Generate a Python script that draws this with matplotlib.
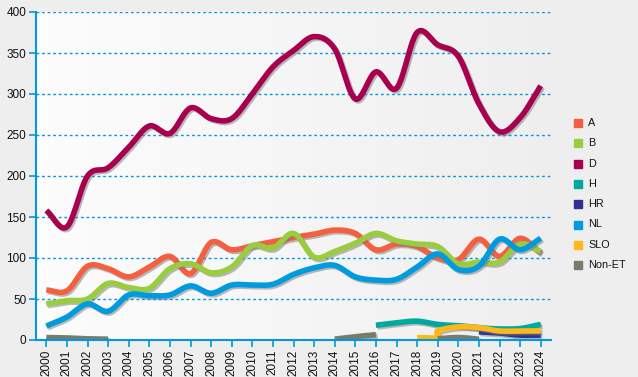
import numpy as np
import matplotlib
matplotlib.use("Agg")
import matplotlib.pyplot as plt
import matplotlib.patheffects as pe

plt.rcParams['font.family'] = ['Liberation Sans', 'DejaVu Sans']

years = list(range(2000, 2025))

a_vals = [61, 60, 90, 87, 77, 89, 102, 81, 119, 110, 115, 120, 125, 129,
          134, 130, 110, 117, 114, 100, 98, 123, 102, 124, 106]
b_vals = [44, 48, 50, 69, 64, 63, 87, 93, 82, 89, 115, 112, 130, 101,
          108, 118, 130, 121, 117, 114, 93, 95, 95, 117, 108]
d_vals = [158, 138, 200, 210, 235, 261, 252, 283, 270, 270, 300, 333, 353, 370,
          355, 294, 327, 307, 375, 360, 346, 288, 254, 271, 310]
nl_vals = [17, 28, 44, 35, 55, 54, 55, 66, 57, 67, 67, 68, 80, 88,
           91, 77, 73, 74, 89, 105, 86, 90, 123, 110, 124]

h_years = [2016, 2017, 2018, 2019, 2020, 2021, 2022, 2023, 2024]
h_vals = [18, 21, 23, 19, 17.5, 15, 13.5, 14, 19]

hr_years = [2021, 2022, 2023, 2024]
hr_vals = [10, 8.5, 6, 6]

slo_years = [2018, 2019, 2019, 2020, 2021, 2022, 2023, 2024]
slo_vals = [3, 3, 11, 16, 15, 11, 11, 11]

nonet_segments = [
    ([2000, 2001, 2002, 2003], [3, 2.5, 1.5, 1]),
    ([2014, 2015, 2016], [1, 4, 6.5]),
    ([2019, 2020, 2021], [1.5, 3, 1]),
]

colors = {
    'A': '#F4603F',
    'B': '#99CC3F',
    'D': '#A6004F',
    'H': '#00A99D',
    'HR': '#2E3192',
    'NL': '#009BDF',
    'SLO': '#FFB81C',
    'Non-ET': '#7A7B6B',
}


def smooth(xs, ys, n=24):
    # parametric catmull-rom through the points
    p = np.column_stack([xs, ys]).astype(float)
    if len(p) < 3:
        return p[:, 0], p[:, 1]
    ext = np.vstack([2 * p[0] - p[1], p, 2 * p[-1] - p[-2]])
    out = []
    t = np.linspace(0, 1, n)[:, None]
    for i in range(1, len(ext) - 2):
        p0, p1, p2, p3 = ext[i - 1], ext[i], ext[i + 1], ext[i + 2]
        m1 = (p2 - p0) / 2
        m2 = (p3 - p1) / 2
        h00 = 2 * t**3 - 3 * t**2 + 1
        h10 = t**3 - 2 * t**2 + t
        h01 = -2 * t**3 + 3 * t**2
        h11 = t**3 - t**2
        out.append(h00 * p1 + h10 * m1 + h01 * p2 + h11 * m2)
    out = np.vstack(out)
    return out[:, 0], out[:, 1]


fig = plt.figure(figsize=(6.38, 3.77), dpi=100, facecolor='#EEEEEE')
ax = fig.add_axes([36 / 638, 1 - 340 / 377, (551 - 36) / 638, 328 / 377])
ax.set_facecolor('#EEEEEE')

# background gradient of the plot area
grad = np.linspace(0.99, 0.935, 256)[None, :]
ax.imshow(np.dstack([grad, grad, grad]), extent=[1999.5, 2024.5, 0, 400],
          aspect='auto', zorder=0)

shadow = [pe.SimpleLineShadow(offset=(1.2, -1.2), shadow_color='#777777', alpha=0.5),
          pe.Normal()]

series = [
    ('A', years, a_vals),
    ('B', years, b_vals),
    ('D', years, d_vals),
    ('H', h_years, h_vals),
    ('HR', hr_years, hr_vals),
    ('NL', years, nl_vals),
    ('SLO', slo_years, slo_vals),
]

for z, (name, xs, ys) in enumerate(series):
    sx, sy = smooth(xs, ys)
    ax.plot(sx, sy, color=colors[name], lw=4, solid_capstyle='butt',
            path_effects=shadow, zorder=3 + z)

for xs, ys in nonet_segments:
    sx, sy = smooth(xs, ys)
    ax.plot(sx, sy, color=colors['Non-ET'], lw=4, solid_capstyle='butt',
            path_effects=shadow, zorder=10)

ax.set_xlim(1999.5, 2024.5)
ax.set_ylim(0, 400)
ax.set_xticks(years)
ax.set_xticklabels([str(y) for y in years], rotation=90)
ax.set_yticks(range(0, 401, 50))
for v in range(50, 401, 50):
    ax.axhline(v, color='#0099DD', lw=1, ls=(0, (2, 2)), zorder=1)

for s in ['top', 'right']:
    ax.spines[s].set_visible(False)
for s in ['left', 'bottom']:
    ax.spines[s].set_color('#0099DD')
    ax.spines[s].set_linewidth(1.5)
    ax.spines[s].set_zorder(20)
ax.tick_params(axis='both', colors='#0099DD', length=5, width=1.2,
               labelcolor='#111111', labelsize=8.5, pad=2)

# legend
names = list(colors.keys())
for i, name in enumerate(names):
    y = 1 - (123 + i * 20.3) / 377
    fig.patches.append(plt.Rectangle((574 / 638, y - 4 / 377), 8 / 638, 8 / 377,
                                     transform=fig.transFigure, color=colors[name]))
    fig.text(588 / 638, y, name, fontsize=7.8, va='center', ha='left', color='#111111')

fig.savefig('out.png', dpi=100, facecolor=fig.get_facecolor())
